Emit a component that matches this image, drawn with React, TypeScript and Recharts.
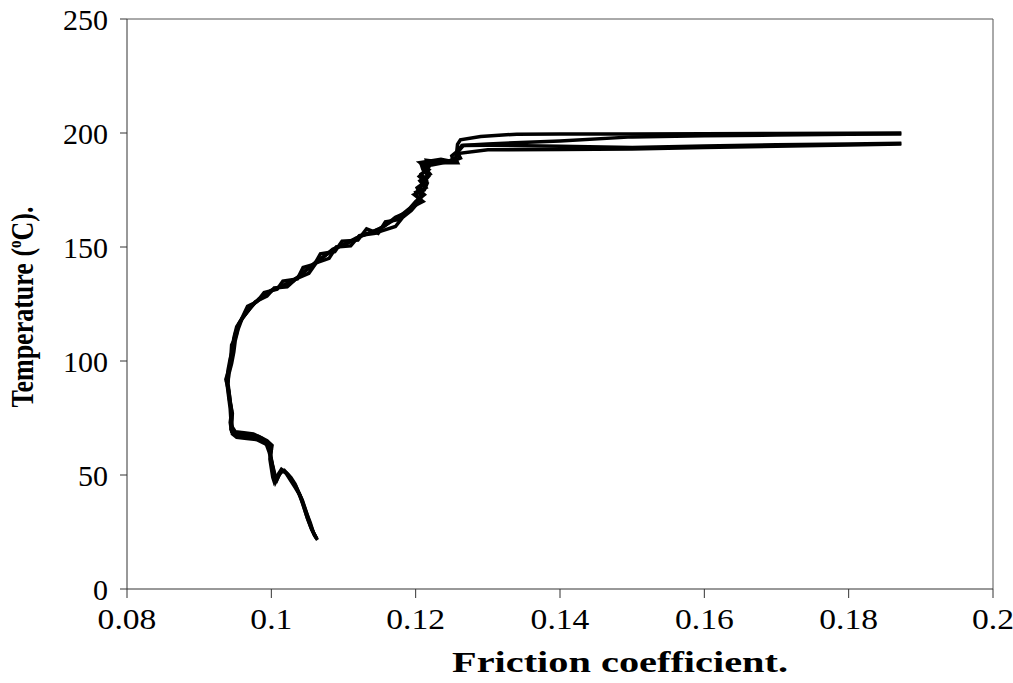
import React from "react";
import { ComposedChart, Line, XAxis, YAxis, ReferenceLine } from "recharts";

// [friction coefficient, temperature] per run
const run1: [number, number][] = [
  [0.1063, 22], [0.1058, 25], [0.1052, 30], [0.1047, 35], [0.1041, 40], [0.1035, 44], [0.1030, 47], [0.1024, 50], [0.1018, 52], [0.1012, 51],
  [0.1008, 48], [0.1005, 50], [0.1002, 54], [0.0999, 58], [0.0998, 62], [0.0995, 64], [0.0985, 66], [0.0972, 67], [0.0958, 67.5], [0.0948, 68],
  [0.0944, 70], [0.0945, 75], [0.0944, 80], [0.0942, 85], [0.0940, 90], [0.0941, 95], [0.0944, 100], [0.0946, 105], [0.0948, 110], [0.0952, 115],
  [0.0958, 118], [0.0965, 121], [0.0975, 125], [0.0988, 128], [0.1000, 131], [0.1015, 133], [0.1030, 135], [0.1045, 139], [0.1058, 142], [0.1070, 145],
  [0.1085, 149], [0.1100, 151], [0.1118, 154], [0.1135, 156], [0.1150, 158], [0.1165, 161], [0.1180, 164], [0.1192, 167], [0.1200, 170], [0.1212, 173],
  [0.1205, 175], [0.1210, 178], [0.1218, 181], [0.1210, 184], [0.1208, 186], [0.1230, 187], [0.1248, 188], [0.1256, 189], [0.1257, 192], [0.1258, 195],
  [0.1262, 197], [0.1290, 198.5], [0.1340, 199.5], [0.1400, 199.6], [0.1500, 199.6], [0.1600, 199.7], [0.1700, 199.8], [0.1800, 199.9], [0.1873, 200],
];

const run2: [number, number][] = [
  [0.1061, 23], [0.1055, 27], [0.1049, 32], [0.1044, 37], [0.1038, 42], [0.1032, 45], [0.1026, 48], [0.1020, 51], [0.1014, 52.5], [0.1009, 50],
  [0.1004, 47], [0.1002, 49], [0.1000, 53], [0.0998, 57], [0.1000, 61], [0.0996, 63], [0.0980, 65.5], [0.0966, 66], [0.0952, 66.5], [0.0946, 68],
  [0.0945, 72], [0.0946, 77], [0.0943, 82], [0.0941, 87], [0.0938, 91], [0.0940, 96], [0.0943, 101], [0.0947, 106], [0.0950, 112], [0.0956, 117],
  [0.0963, 120], [0.0970, 123], [0.0982, 127], [0.0995, 130], [0.1008, 132], [0.1022, 134], [0.1038, 137], [0.1052, 141], [0.1064, 144], [0.1078, 147],
  [0.1092, 150], [0.1108, 152], [0.1125, 155], [0.1142, 157], [0.1156, 159], [0.1172, 163], [0.1186, 165], [0.1196, 168], [0.1204, 171], [0.1200, 174],
  [0.1214, 176], [0.1206, 179], [0.1220, 182], [0.1212, 185], [0.1222, 186], [0.1240, 187], [0.1252, 188], [0.1250, 190], [0.1258, 192], [0.1264, 194.5],
  [0.1300, 195.2], [0.1400, 196.5], [0.1500, 198.3], [0.1600, 198.8], [0.1700, 199.1], [0.1800, 199.4], [0.1873, 199.6],
];

const run3: [number, number][] = [
  [0.1064, 21.5], [0.1059, 24], [0.1054, 29], [0.1048, 34], [0.1043, 39], [0.1037, 43], [0.1033, 46], [0.1027, 49], [0.1020, 51], [0.1015, 52],
  [0.1010, 49.5], [0.1006, 47], [0.1003, 52], [0.1000, 56], [0.0997, 60], [0.0993, 63.5], [0.0988, 66], [0.0975, 68], [0.0962, 68.5], [0.0950, 69],
  [0.0946, 71], [0.0944, 74], [0.0943, 79], [0.0941, 84], [0.0939, 89], [0.0941, 94], [0.0945, 99], [0.0948, 104], [0.0950, 109], [0.0954, 114],
  [0.0960, 119], [0.0968, 122], [0.0978, 126], [0.0994, 128.5], [0.1004, 132], [0.1022, 132.5], [0.1034, 136], [0.1052, 138.5], [0.1062, 143], [0.1080, 145],
  [0.1090, 150], [0.1110, 150.5], [0.1122, 155], [0.1144, 156], [0.1152, 157], [0.1172, 159], [0.1182, 163], [0.1194, 166], [0.1202, 169], [0.1208, 172],
  [0.1202, 176], [0.1215, 179], [0.1208, 182], [0.1218, 184], [0.1206, 187], [0.1235, 188.5], [0.1250, 187.5], [0.1262, 189], [0.1258, 191.5], [0.1266, 194.5],
  [0.1300, 194.6], [0.1400, 194.2], [0.1500, 193.6], [0.1600, 194.3], [0.1700, 194.8], [0.1800, 195.2], [0.1873, 195.5],
];

const run4: [number, number][] = [
  [0.1062, 22.5], [0.1056, 26], [0.1050, 31], [0.1045, 36], [0.1040, 41], [0.1034, 45], [0.1028, 47.5], [0.1022, 50.5], [0.1016, 52], [0.1011, 50.5],
  [0.1006, 48.5], [0.1003, 51], [0.1001, 55], [0.0999, 59], [0.1001, 63], [0.0994, 65], [0.0982, 67], [0.0968, 67], [0.0955, 67.5], [0.0945, 69],
  [0.0943, 73], [0.0945, 78], [0.0942, 83], [0.0940, 88], [0.0937, 92], [0.0942, 97], [0.0944, 102], [0.0945, 107], [0.0951, 111], [0.0955, 116],
  [0.0961, 120], [0.0967, 124], [0.0980, 126], [0.0990, 130], [0.1008, 131.5], [0.1016, 135], [0.1036, 136], [0.1044, 141], [0.1060, 142.5], [0.1068, 147],
  [0.1088, 148], [0.1098, 152.5], [0.1120, 153], [0.1132, 158], [0.1148, 156], [0.1158, 161], [0.1176, 162], [0.1190, 166], [0.1198, 168], [0.1210, 170],
  [0.1198, 173], [0.1212, 175], [0.1216, 178], [0.1205, 181], [0.1218, 185], [0.1215, 188], [0.1242, 187], [0.1258, 187], [0.1255, 189], [0.1258, 191],
  [0.1300, 192.6], [0.1400, 192.8], [0.1500, 193], [0.1600, 193.6], [0.1700, 194.2], [0.1800, 194.7], [0.1873, 195.2],
];

const runs = [run1, run2, run3, run4];
const xTicks = [0.08, 0.1, 0.12, 0.14, 0.16, 0.18, 0.2];
const yTicks = [0, 50, 100, 150, 200, 250];
const xTitle = "Friction coefficient.";
const yTitleMain = "Temperature (";
const yTitleSup = "o";
const yTitleEnd = "C).";

const FONT = "'Liberation Serif', 'Times New Roman', serif";

const toRows = (r: [number, number][]) => r.map(([f, t]) => ({ f, t }));

const fmtX = (v: number) => String(Number(v.toFixed(2)));

// x tick label, slightly widened horizontally like the reference
const XTick = (props: any) => {
  const { x, y, payload } = props;
  const s = fmtX(payload.value);
  return (
    <g transform={`translate(${x},${y}) scale(1.12,1)`}>
      <text x={0} y={0} dy={23} textAnchor="middle" fontFamily={FONT} fontSize={30} fill="#000">
        {s}
      </text>
    </g>
  );
};

export default function App() {
  return (
    <div style={{ position: "absolute", left: 0, top: 0, width: 1013, height: 683, background: "#fff" }}>
      <ComposedChart width={1013} height={683} margin={{ top: 19, right: 20, bottom: 34, left: 0 }}>
        <XAxis
          type="number"
          dataKey="f"
          domain={[0.08, 0.2]}
          ticks={xTicks}
          allowDataOverflow
          height={60}
          stroke="#333"
          tickSize={9}
          tickMargin={8}
          tick={<XTick />}
          label={{
            content: () => (
              <text
                x={620}
                y={672}
                textAnchor="middle"
                fontFamily={FONT}
                fontWeight="bold"
                fontSize={29}
                textLength={336}
                lengthAdjust="spacingAndGlyphs"
                fill="#000"
              >
                {xTitle}
              </text>
            ),
          }}
        />
        <YAxis
          type="number"
          dataKey="t"
          domain={[0, 250]}
          ticks={yTicks}
          width={127}
          stroke="#333"
          tickSize={7}
          tickMargin={12}
          tick={{ fill: "#000", fontSize: 30, fontFamily: FONT }}
          label={{
            content: () => (
              <g transform="translate(33,307) scale(1.25,1) rotate(-90)">
                <text
                  x={0}
                  y={0}
                  textAnchor="middle"
                  fontFamily={FONT}
                  fontWeight="bold"
                  fontSize={26}
                  fill="#000"
                >
                  {yTitleMain}
                  <tspan fontSize={15} dy={-10}>{yTitleSup}</tspan>
                  <tspan dy={10}>{yTitleEnd}</tspan>
                </text>
              </g>
            ),
          }}
        />
        <ReferenceLine y={250} stroke="#555" strokeWidth={1} />
        <ReferenceLine x={0.2} stroke="#555" strokeWidth={1} />
        {runs.map((r, i) => (
          <Line
            key={i}
            data={toRows(r)}
            dataKey="t"
            type="linear"
            stroke="#000"
            strokeWidth={3.5}
            dot={false}
            activeDot={false}
            isAnimationActive={false}
          />
        ))}
      </ComposedChart>
    </div>
  );
}
